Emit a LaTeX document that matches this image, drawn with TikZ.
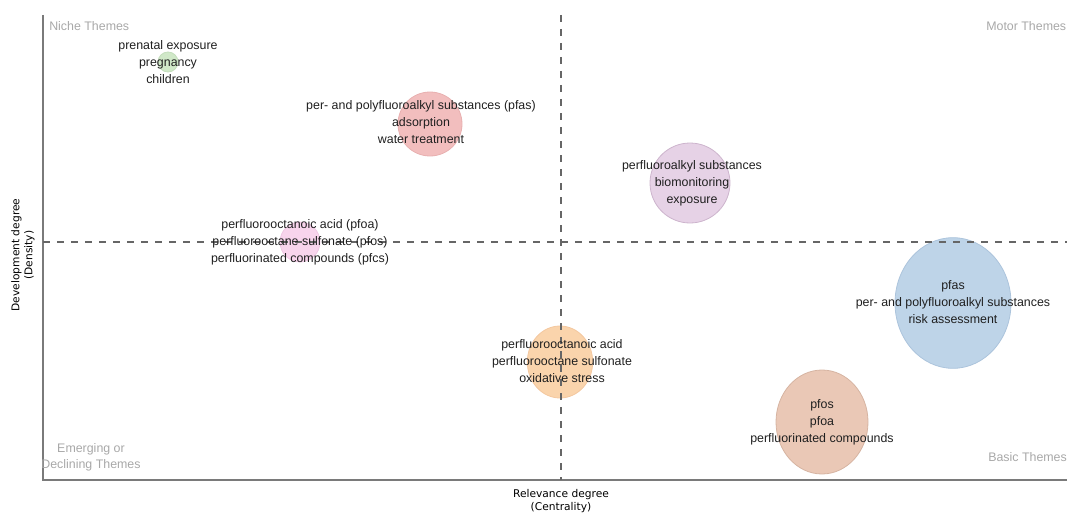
\documentclass[tikz,border=0pt]{standalone}
\usepackage{fontspec}
\setmainfont{Liberation Sans}
\newfontfamily\axisfont{DejaVu Sans}
\usetikzlibrary{shapes.geometric}
\definecolor{axisgray}{HTML}{7A7A7A}
\definecolor{dashgray}{HTML}{666666}
\definecolor{quadgray}{HTML}{A8A8A8}
\tikzset{
  bubble/.style={ellipse, inner sep=0pt, line width=0.6pt},
  lbl/.style={align=center, font=\fontsize{9.3}{12.75}\selectfont, text=black!88, inner sep=0pt},
  quad/.style={font=\fontsize{9.3}{12}\selectfont, text=quadgray, inner sep=0pt},
  axislbl/.style={font=\axisfont\fontsize{8}{9.8}\selectfont, align=center, inner sep=0pt},
  midline/.style={dashgray, line width=0.9pt, dash pattern=on 5.5pt off 5pt},
  axisline/.style={axisgray, line width=1.1pt}
}
\begin{document}
\begin{tikzpicture}[x=0.75pt,y=-0.75pt]
\useasboundingbox (0,0) rectangle (1067,517);
% bubbles
\node[bubble, fill={rgb,255:red,208;green,232;blue,200}, draw={rgb,255:red,196;green,222;blue,188}, minimum width=15pt, minimum height=15pt] (bgreen) at (168,62) {};
\node[bubble, fill={rgb,255:red,242;green,190;blue,190}, draw={rgb,255:red,232;green,176;blue,176}, minimum width=48pt, minimum height=48pt] (bred) at (430,124) {};
\node[bubble, fill={rgb,255:red,230;green,210;blue,230}, draw={rgb,255:red,205;green,180;blue,205}, minimum width=60pt, minimum height=60pt] (bpurple) at (690,183) {};
\node[bubble, fill={rgb,255:red,248;green,212;blue,236}, draw={rgb,255:red,240;green,200;blue,228}, minimum width=30pt, minimum height=30pt] (bpink) at (300,242) {};
\node[bubble, fill={rgb,255:red,190;green,212;blue,232}, draw={rgb,255:red,172;green,196;blue,220}, minimum width=87pt, minimum height=98pt] (bblue) at (953,303) {};
\node[bubble, fill={rgb,255:red,250;green,212;blue,172}, draw={rgb,255:red,244;green,200;blue,160}, minimum width=49pt, minimum height=54pt] (borange) at (560,362) {};
\node[bubble, fill={rgb,255:red,234;green,200;blue,182}, draw={rgb,255:red,214;green,180;blue,162}, minimum width=69pt, minimum height=78pt] (bbrown) at (822,422) {};
% axes
\coordinate (ytop) at (43,15);
\coordinate (orig) at (43,480);
\coordinate (xend) at (1067,480);
\draw[axisline] (ytop) -- (orig) -- (xend);
% quadrant dividers
\coordinate (vtop) at (561,15);
\coordinate (vbot) at (561,480);
\coordinate (hleft) at (43,242);
\coordinate (hright) at (1067,242);
\draw[midline] (vtop) -- (vbot);
\draw[midline] (hleft) -- (hright);
% quadrant labels
\node[quad, anchor=west] (niche) at (49,26) {Niche Themes};
\node[quad, anchor=west] (motor) at (986,26) {Motor Themes};
\node[quad, align=center] (emerg) at (91,457) {Emerging or\\Declining Themes};
\node[quad, anchor=west] (basic) at (988,457) {Basic Themes};
% bubble labels
\node[lbl] (tgreen) at (168,62) {prenatal exposure\\pregnancy\\children};
\node[lbl] (tred) at (421,122) {per- and polyfluoroalkyl substances (pfas)\\adsorption\\water treatment};
\node[lbl] (tpurple) at (692,183) {perfluoroalkyl substances\\biomonitoring\\exposure};
\node[lbl] (tpink) at (300,242) {perfluorooctanoic acid (pfoa)\\perfluorooctane sulfonate (pfos)\\perfluorinated compounds (pfcs)};
\node[lbl] (tblue) at (953,302) {pfas\\per- and polyfluoroalkyl substances\\risk assessment};
\node[lbl] (torange) at (562,361) {perfluorooctanoic acid\\perfluorooctane sulfonate\\oxidative stress};
\node[lbl] (tbrown) at (822,422) {pfos\\pfoa\\perfluorinated compounds};
% axis labels
\node[axislbl, rotate=90] (ylab) at (23,255) {Development degree\\(Density)};
\node[axislbl] (xlab) at (561,501) {Relevance degree\\(Centrality)};
\end{tikzpicture}
\end{document}
